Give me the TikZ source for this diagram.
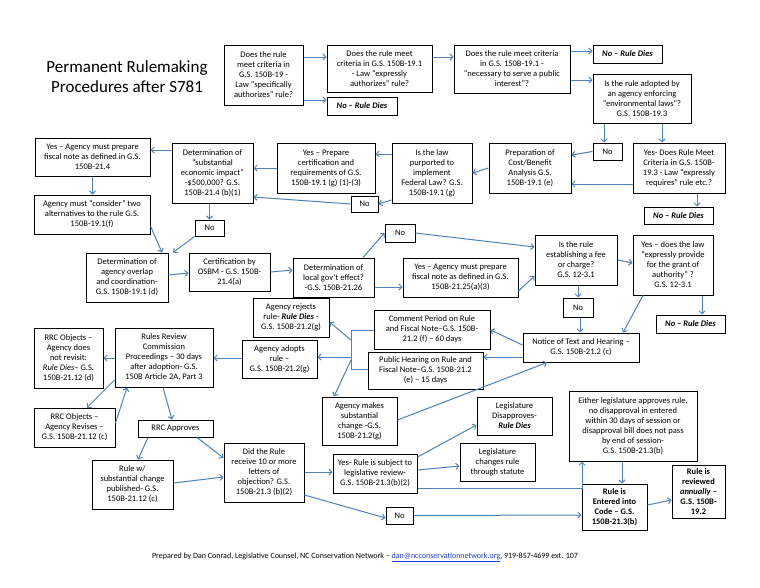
\documentclass[tikz,border=0pt]{standalone}
\usepackage{fontspec}
\setmainfont{Carlito}
\usetikzlibrary{arrows.meta}
\definecolor{arrowblue}{RGB}{79,129,189}
\definecolor{linkblue}{RGB}{30,60,220}

\begin{document}
\begin{tikzpicture}[x=1pt, y=-1pt,
    box/.style={draw, line width=1pt, align=center, inner sep=1pt, font=\fontsize{8.5}{10}\selectfont},
    wh/.style 2 args={minimum width=#1pt, minimum height=#2pt},
    nobox/.style={box, font=\fontsize{8.5}{10}\selectfont\bfseries\itshape},
    arr/.style={draw=arrowblue, line width=1pt, -{Straight Barb[length=3pt, width=6pt]}},
    wire/.style={draw=arrowblue, line width=1pt}]

\useasboundingbox[fill=white] (0,0) rectangle (760,587);

% Title
\node[font=\fontsize{17}{20}\selectfont, align=center] (title) at (127,77) {Permanent Rulemaking\\Procedures after S781};

% Top row: authority tests
\node[box, wh={79}{60}] (law) at (263.5,75) {Does the rule\\meet criteria in\\G.S. 150B-19 -\\Law “specifically\\authorizes” rule?};
\node[box, wh={105}{47}] (expr) at (379.5,68.5) {Does the rule meet\\criteria in G.S. 150B-19.1\\- Law “expressly\\authorizes” rule?};
\node[nobox, wh={70}{18}] (dieA) at (362,106) {No – Rule Dies};
\node[box, wh={116}{48}] (pub) at (512,69) {Does the rule meet criteria\\in G.S. 150B-19.1 -\\“necessary to serve a public\\interest”?};
\node[nobox, wh={69}{18}] (dieB) at (627.5,54) {No – Rule Dies};
\node[box, wh={98}{49}] (env) at (642,98.5) {Is the rule adopted by\\an agency enforcing\\“environmental laws”?\\G.S. 150B-19.3};
\node[box, wh={29}{17}] (noEnv) at (607.5,151.5) {No};
\node[box, wh={92}{50}] (envYes) at (679,168) {Yes- Does Rule Meet\\Criteria in G.S. 150B-\\19.3 - Law “expressly\\requires” rule etc.?};
\node[nobox, wh={69}{17}] (dieC) at (678.5,215.5) {No – Rule Dies};

% Second row: analysis
\node[box, wh={82}{50}] (cost) at (530,168) {Preparation of\\Cost/Benefit\\Analysis G.S.\\150B-19.1 (e)};
\node[box, wh={80}{60}] (fed) at (432,173) {Is the law\\purported to\\implement\\Federal Law? G.S.\\150B-19.1 (g)};
\node[box, wh={98}{50}] (cert) at (326,168) {Yes – Prepare\\certification and\\requirements of G.S.\\150B-19.1 (g) (1)-(3)};
\node[box, wh={27}{16}] (noFed) at (364.5,204) {No};
\node[box, wh={81}{60}] (econ) at (212.5,173) {Determination of\\“substantial\\economic impact”\\-\$500,000? G.S.\\150B-21.4 (b)(1)};
\node[box, wh={115}{38}] (fiscal) at (92.5,157) {Yes – Agency must prepare\\fiscal note as defined in G.S.\\150B-21.4};
\node[box, wh={116}{39}] (alt) at (92,214.5) {Agency must “consider” two\\alternatives to the rule G.S.\\150B-19.1(f)};
\node[box, wh={29}{16}] (noEcon) at (209.5,228) {No};

% Third row: coordination and local effect
\node[box, wh={82}{49}] (overlap) at (127,277.5) {Determination of\\agency overlap\\and coordination-\\G.S. 150B-19.1 (d)};
\node[box, wh={81}{38}] (osbm) at (229.5,272) {Certification by\\OSBM - G.S. 150B-\\21.4(a)};
\node[box, wh={81}{39}] (local) at (333.5,277.5) {Determination of\\local gov’t effect?\\-G.S. 150B-21.26};
\node[box, wh={30}{18}] (noLocal) at (400,233) {No};
\node[box, wh={115}{39}] (localYes) at (460.5,277.5) {Yes – Agency must prepare\\fiscal note as defined in G.S.\\150B-21.25(a)(3)};
\node[box, wh={82}{50}] (fee) at (576,260) {Is the rule\\establishing a fee\\or charge?\\G.S. 12-3.1};
\node[box, wh={80}{60}] (feeYes) at (673,265) {Yes – does the law\\“expressly provide\\for the grant of\\authority” ?\\G.S. 12-3.1};
\node[nobox, wh={69}{18}] (dieD) at (690.5,324) {No – Rule Dies};
\node[box, wh={30}{19}] (noFee) at (578,307.5) {No};

% Notice and hearing
\node[box, wh={116}{29}] (notice) at (581,347.5) {Notice of Text and Hearing –\\G.S. 150B-21.2 (c)};
\node[box, wh={116}{39}] (comment) at (432,329.5) {Comment Period on Rule\\and Fiscal Note–G.S. 150B-\\21.2 (f) – 60 days};
\node[box, wh={115}{37}] (hearing) at (425.5,370.5) {Public Hearing on Rule and\\Fiscal Note–G.S. 150B-21.2\\(e) – 15 days};
\node[box, wh={76}{39}] (reject) at (291,317.5) {Agency rejects\\rule- \textbf{\textit{Rule Dies}} -\\G.S. 150B-21.2(g)};
\node[box, wh={75}{38}] (adopt) at (279.5,359) {Agency adopts\\rule –\\G.S. 150B-21.2(g)};
\node[box, wh={75}{48}] (change) at (359.5,421) {Agency makes\\substantial\\change -G.S.\\150B-21.2(g)};

% Rules Review Commission
\node[box, wh={98}{59}] (rrc) at (164,357.5) {Rules Review\\Commission\\Proceedings – 30 days\\after adoption- G.S.\\150B Article 2A, Part 3};
\node[box, wh={69}{60}] (objDie) at (68.5,358) {RRC Objects –\\Agency does\\not revisit:\\\textit{Rule Dies}– G.S.\\150B-21.12 (d)};
\node[box, wh={81}{39}] (objRev) at (74.5,427.5) {RRC Objects –\\Agency Revises –\\G.S. 150B-21.12 (c)};
\node[box, wh={75}{17}] (approve) at (175.5,428.5) {RRC Approves};
\node[box, wh={81}{49}] (publish) at (132.5,484.5) {Rule w/\\substantial change\\published- G.S.\\150B-21.12 (c)};
\node[box, wh={80}{59}] (letters) at (264,472.5) {Did the Rule\\receive 10 or more\\letters of\\objection? G.S.\\150B-21.3 (b)(2)};

% Legislature
\node[box, wh={84}{39}] (legis) at (375,473.5) {Yes- Rule is subject to\\legislative review-\\G.S. 150B-21.3(b)(2)};
\node[box, wh={27}{17}] (noLetters) at (399.5,515.5) {No};
\node[box, wh={75}{38}] (disapp) at (514.5,416) {Legislature\\Disapproves-\\\textbf{\textit{Rule Dies}}};
\node[box, wh={75}{38}] (statute) at (497.5,462) {Legislature\\changes rule\\through statute};
\node[box, wh={128}{70}] (approved) at (633,426) {Either legislature approves rule,\\no disapproval in entered\\within 30 days of session or\\disapproval bill does not pass\\by end of session-\\G.S. 150B-21.3(b)};
\node[box, wh={65}{46}, font=\fontsize{8.5}{10}\selectfont\bfseries] (code) at (614.5,507) {Rule is\\Entered into\\Code – G.S.\\150B-21.3(b)};
\node[box, wh={53}{53}, font=\fontsize{8.5}{10}\selectfont\bfseries] (annual) at (698.5,491.5) {Rule is\\reviewed\\\textit{annually} –\\G.S. 150B-\\19.2};

% Footer
\node[font=\fontsize{8}{9}\selectfont] (footer) at (365,557) {Prepared by Dan Conrad, Legislative Counsel, NC Conservation Network – \textcolor{linkblue}{\underline{dan@ncconservationnetwork.org}}, 919-857-4699 ext. 107};

% Bracket behind comment period and hearing
\coordinate (brkTop) at (351,330);
\coordinate (brkBot) at (351,369);
\draw[wire] (comment.west |- brkTop) -- (brkTop) -- (brkBot) -- (hearing.west |- brkBot);

% Draw the arrows of the top rows
\draw[arr] (law.east |- 0,57) -- (expr.west |- 0,57);
\draw[arr] (law.east |- 0,100) -- (dieA.west |- 0,100);
\draw[arr] (expr.east |- 0,57) -- (pub.west |- 0,57);
\draw[arr] (pub.east |- 0,51) -- (dieB.west |- 0,51);
\draw[arr] (pub.east |- 0,80) -- (env.west |- 0,80);
\draw[arr] (env.south -| 604,0) -- (noEnv.north -| 604,0);
\draw[arr] (env.south -| 662,0) -- (envYes.north -| 662,0);
\draw[arr] (envYes.south -| 697,0) -- (dieC.north -| 697,0);
\draw[arr] (envYes.west |- 0,184) -- (cost.east |- 0,184);
\draw[arr] (noEnv.west) -- (cost.east |- 0,155);
\draw[arr] (cost.west) -- (fed.east);
\draw[arr] (fed.west |- 0,154) -- (cert.east |- 0,154);
\draw[arr] (fed.west |- 0,200) -- (noFed.east);
\draw[arr] (noFed.west) -- (econ.east |- 0,197);
\draw[arr] (cert.west) -- (econ.east |- 0,168);
\draw[arr] (econ.west |- 0,150) -- (fiscal.east |- 0,150);
\draw[arr] (fiscal.south) -- (alt.north -| fiscal.south);
\draw[arr] (econ.south -| noEcon.north) -- (noEcon.north);
\draw[arr] (alt.east |- 0,226) -- (overlap.north -| 162,0);
\draw[arr] (noEcon.south west) -- (overlap.north -| 173,0);

% Draw the arrows of the middle rows
\draw[arr] (overlap.east |- 0,275) -- (osbm.west |- 0,273);
\draw[arr] (osbm.east) -- (local.west |- 0,270);
\draw[arr] (local.north -| 363,0) -- (noLocal.west);
\draw[arr] (noLocal.east) -- (fee.west |- 0,247);
\draw[arr] (local.east |- 0,287) -- (localYes.west |- 0,287);
\draw[arr] (localYes.east |- 0,291) -- (fee.west |- 0,276);
\draw[arr] (fee.east |- 0,260) -- (feeYes.west |- 0,263);
\draw[arr] (feeYes.south -| 702,0) -- (dieD.north -| 702,0);
\draw[arr] (fee.south -| noFee.north) -- (noFee.north);
\draw[arr] (noFee.south -| 580,0) -- (notice.north -| 580,0);
\draw[arr] (feeYes.south -| 643,0) -- (notice.north -| 623,0);
\draw[arr] (notice.west |- 0,345) -- (comment.east |- 0,330);
\draw[arr] (notice.west |- 0,357) -- (hearing.east |- 0,357);
\draw[arr] (brkTop |- 0,340) -- (reject.east |- 0,322);
\draw[arr] (brkTop |- 0,357) -- (adopt.east |- 0,357);
\draw[arr] (brkTop |- 0,360) -- (change.north -| 334,0);
\draw[arr] (change.east |- 0,420) -- (notice.south -| 547,0);

% Draw the arrows of the review rows
\draw[arr] (adopt.west |- 0,358) -- (rrc.east |- 0,358);
\draw[arr] (rrc.west |- 0,358) -- (objDie.east |- 0,358);
\draw[arr] (rrc.west |- 0,380) -- (objRev.north -| 87,0);
\draw[arr] (objRev.east |- 0,423) -- (rrc.south -| 127,0);
\draw[arr] (rrc.south -| 163,0) -- (approve.north -| 172,0);
\draw[arr] (approve.south -| 148,0) -- (publish.north -| 138,0);
\draw[arr] (approve.south -| 197,0) -- (letters.west |- 0,458);
\draw[arr] (publish.east |- 0,483) -- (letters.west |- 0,477);
\draw[arr] (letters.east |- 0,472) -- (legis.west |- 0,472);
\draw[arr] (letters.east |- 0,495) -- (noLetters.west |- 0,518);
\draw[arr] (legis.east |- 0,457) -- (disapp.west |- 0,425);
\draw[arr] (legis.east |- 0,470) -- (statute.west |- 0,466);
\draw[arr] (legis.east |- 0,488) -- (582,488) -- (approved.south -| 582,0);
\draw[arr] (noLetters.east) -- (code.west |- 0,515);
\draw[arr] (approved.south -| 622,0) -- (code.north -| 622,0);
\draw[arr] (code.east |- 0,505) -- (annual.west |- 0,500);

\end{tikzpicture}
\end{document}
